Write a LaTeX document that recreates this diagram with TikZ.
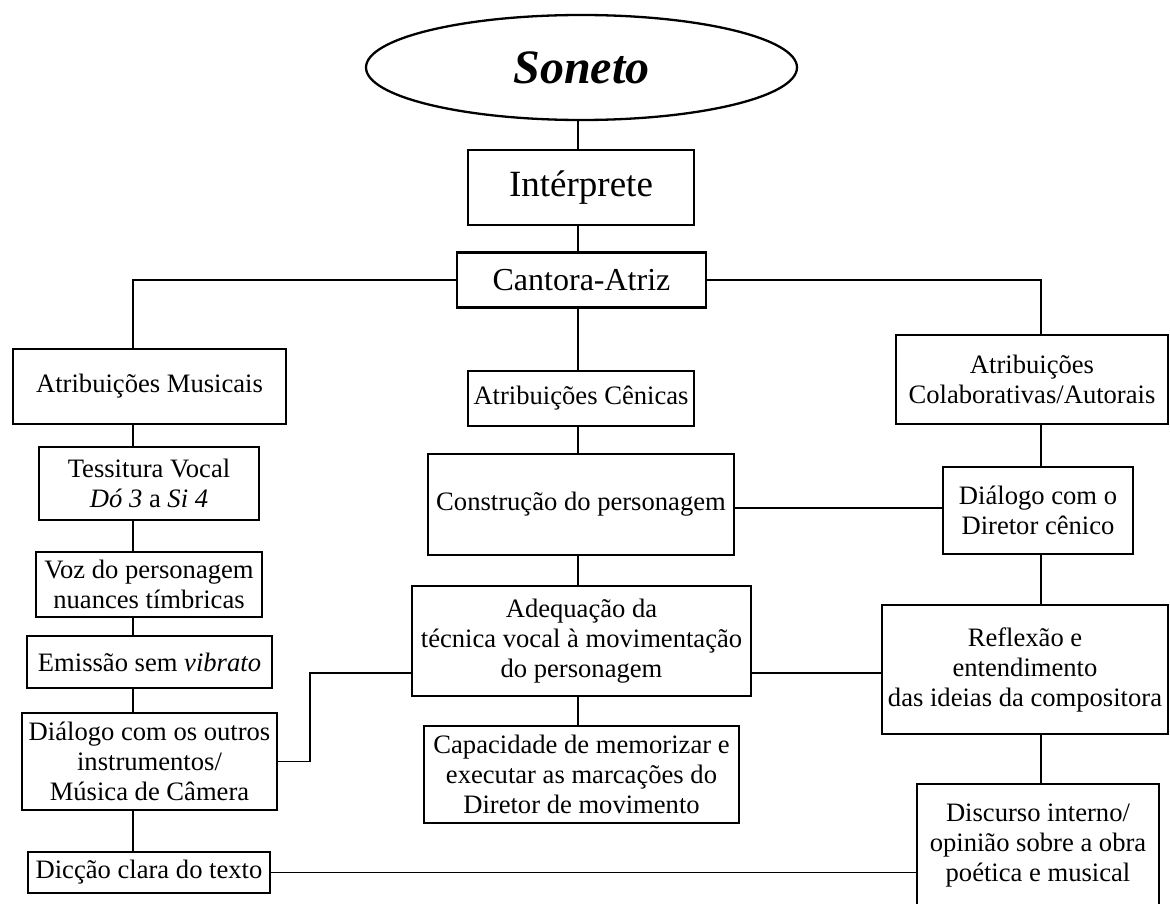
\documentclass[tikz,border=0pt]{standalone}
\usepackage{fontspec}
\setmainfont{Liberation Serif}
\usetikzlibrary{shapes.geometric}
\begin{document}
\begin{tikzpicture}[x=1pt,y=-1pt,
  box/.style={draw, line width=2.3pt, inner sep=0pt, align=center, font=\fontsize{26.6}{30}\selectfont},
  conn/.style={line width=1.3pt}]
\useasboundingbox (0,0) rectangle (1170,904);
% top
\node[draw, ellipse, line width=2.3pt, minimum width=431pt, minimum height=105pt, inner sep=0pt, font=\fontsize{48}{56}\selectfont\bfseries\itshape] (soneto) at (581.5,67.5) {Soneto};
\node[box, minimum width=226pt, minimum height=75pt, font=\fontsize{37}{42}\selectfont] (interp) at (581,187.5) {Intérprete};
\node[box, minimum width=249pt, minimum height=55pt, font=\fontsize{32}{36}\selectfont] (cantora) at (581.5,280) {Cantora-Atriz};
% centre column
\node[box, minimum width=226pt, minimum height=55pt] (cenicas) at (581,398.5) {Atribuições Cênicas};
\node[box, minimum width=306pt, minimum height=101pt] (construcao) at (581,504.5) {Construção do personagem};
\node[box, minimum width=339pt, minimum height=110pt] (adequacao) at (581.5,641) {Adequação da\\técnica vocal à movimentação\\do personagem};
\node[box, minimum width=315pt, minimum height=97pt] (capacidade) at (581.5,774.5) {Capacidade de memorizar e\\executar as marcações do\\Diretor de movimento};
% left column
\node[box, minimum width=273pt, minimum height=75pt] (musicais) at (149.5,386.5) {Atribuições Musicais};
\node[box, minimum width=220pt, minimum height=73pt] (tessitura) at (149,483.5) {Tessitura Vocal\\\textit{Dó 3} a \textit{Si 4}};
\node[box, minimum width=226pt, minimum height=65pt] (voz) at (149,584.5) {Voz do personagem\\nuances tímbricas};
\node[box, minimum width=245pt, minimum height=52pt] (emissao) at (149.5,662) {Emissão sem \textit{vibrato}};
\node[box, minimum width=255pt, minimum height=97pt] (dialout) at (149.5,761.5) {Diálogo com os outros\\instrumentos/\\Música de Câmera};
\node[box, minimum width=242pt, minimum height=41pt] (diccao) at (149,872.5) {Dicção clara do texto};
% right column
\node[box, minimum width=272pt, minimum height=89pt] (colab) at (1032,379.5) {Atribuições\\Colaborativas/Autorais};
\node[box, minimum width=190pt, minimum height=87pt] (dialdir) at (1038,510.5) {Diálogo com o\\Diretor cênico};
\node[box, minimum width=286pt, minimum height=129pt] (reflexao) at (1025,669.5) {Reflexão e\\entendimento\\das ideias da compositora};
\node[box, minimum width=242pt, minimum height=124pt] (discurso) at (1038,846) {Discurso interno/\\opinião sobre a obra\\poética e musical};
% guide coordinates
\coordinate (sp) at (578,0);
\coordinate (lx) at (133,0);
\coordinate (rx) at (1041,0);
\coordinate (ly) at (0,508);
\coordinate (ay) at (0,673);
\coordinate (bx) at (310,0);
% connectors: spine
\draw[conn] (soneto.south -| sp) -- (interp.north -| sp);
\draw[conn] (interp.south -| sp) -- (cantora.north -| sp);
\draw[conn] (cantora.south -| sp) -- (cenicas.north -| sp);
\draw[conn] (cenicas.south -| sp) -- (construcao.north -| sp);
\draw[conn] (construcao.south -| sp) -- (adequacao.north -| sp);
\draw[conn] (adequacao.south -| sp) -- (capacidade.north -| sp);
% branches
\draw[conn] (cantora.west) -| (musicais.north -| lx);
\draw[conn] (cantora.east) -| (colab.north -| rx);
% left column
\draw[conn] (musicais.south -| lx) -- (tessitura.north -| lx);
\draw[conn] (tessitura.south -| lx) -- (voz.north -| lx);
\draw[conn] (voz.south -| lx) -- (emissao.north -| lx);
\draw[conn] (emissao.south -| lx) -- (dialout.north -| lx);
\draw[conn] (dialout.south -| lx) -- (diccao.north -| lx);
% right column
\draw[conn] (colab.south -| rx) -- (dialdir.north -| rx);
\draw[conn] (dialdir.south -| rx) -- (reflexao.north -| rx);
\draw[conn] (reflexao.south -| rx) -- (discurso.north -| rx);
% cross links
\draw[conn] (construcao.east |- ly) -- (dialdir.west |- ly);
\draw[conn] (adequacao.west |- ay) -- (bx |- ay) -- (bx |- dialout.east) -- (dialout.east);
\draw[conn] (adequacao.east |- ay) -- (reflexao.west |- ay);
\draw[conn] (diccao.east) -- (discurso.west |- diccao.east);
\end{tikzpicture}
\end{document}
